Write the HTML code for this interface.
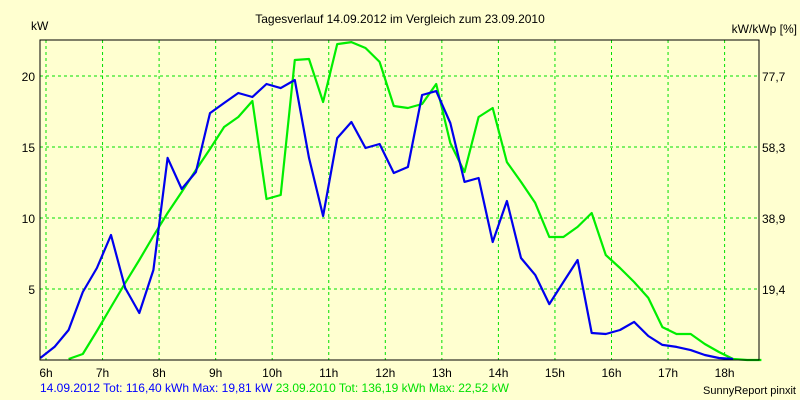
<!DOCTYPE html>
<html><head><meta charset="utf-8"><style>
body{margin:0;background:#ffffd0;}
svg{display:block;font-family:"Liberation Sans",Arial,sans-serif;}
</style></head><body>
<svg id="chart" width="800" height="400">
<rect x="0" y="0" width="800" height="400" fill="#ffffd0"/>
<text x="400" y="23" font-size="12" text-anchor="middle">Tagesverlauf 14.09.2012 im Vergleich zum 23.09.2010</text>
<text x="31" y="30" font-size="12">kW</text>
<text x="797" y="33" font-size="12" text-anchor="end">kW/kWp [%]</text>
<g id="grid"></g>
<g id="series"></g>
<rect x="40" y="40" width="719" height="320" fill="none" stroke="#000" stroke-width="1"/>
<g id="labels"></g>
<text x="40" y="392" font-size="12"><tspan fill="#0000ff">14.09.2012 Tot: 116,40 kWh Max: 19,81 kW</tspan><tspan fill="#00e000"> 23.09.2010 Tot: 136,19 kWh Max: 22,52 kW</tspan></text>
<text x="796" y="394" font-size="11" text-anchor="end">SunnyReport pinxit</text>
</svg>
<script>
const hours = [6,7,8,9,10,11,12,13,14,15,16,17,18];
const hourLabels = ["6h","7h","8h","9h","10h","11h","12h","13h","14h","15h","16h","17h","18h"];
const yTicks = [5,10,15,20];
const rightLabels = ["19,4","38,9","58,3","77,7"];
const times = [5.9,6.15,6.4,6.65,6.9,7.15,7.4,7.65,7.9,8.15,8.4,8.65,8.9,9.15,9.4,9.65,9.9,10.15,10.4,10.65,10.9,11.15,11.4,11.65,11.9,12.15,12.4,12.65,12.9,13.15,13.4,13.65,13.9,14.15,14.4,14.65,14.9,15.15,15.4,15.65,15.9,16.15,16.4,16.65,16.9,17.15,17.4,17.65,17.9,18.15,18.4,18.65];
const power2012 = [0.14,0.92,2.11,4.79,6.48,8.8,5.07,3.31,6.34,14.23,12.04,13.24,17.39,18.1,18.8,18.52,19.44,19.15,19.72,14.23,10.14,15.63,16.76,14.93,15.21,13.17,13.59,18.66,18.94,16.69,12.54,12.82,8.31,11.2,7.18,5.99,3.94,5.49,7.04,1.9,1.83,2.11,2.68,1.69,1.06,0.92,0.7,0.35,0.14,0.07,null,null];
const power2010 = [null,null,0.07,0.42,2.04,3.73,5.42,7.04,8.73,10.35,11.83,13.38,14.86,16.41,17.11,18.24,11.34,11.62,21.13,21.2,18.17,22.25,22.39,21.97,20.99,17.89,17.75,18.03,19.44,15.28,13.24,17.11,17.75,13.94,12.54,11.06,8.66,8.66,9.37,10.35,7.39,6.48,5.49,4.37,2.32,1.83,1.83,1.13,0.56,0.07,0,0];

const NS="http://www.w3.org/2000/svg";
const xS = h => 46 + (h-6)*56.55;
const yS = v => 360 - v*14.2;
const grid=document.getElementById('grid'), labels=document.getElementById('labels'), series=document.getElementById('series');
function mk(tag,attrs,parent){const e=document.createElementNS(NS,tag);for(const k in attrs)e.setAttribute(k,attrs[k]);parent.appendChild(e);return e;}
hours.forEach((h,i)=>{
  const l=mk('line',{x1:xS(h),x2:xS(h),y1:40,y2:360,stroke:'#00e000','stroke-dasharray':'3,3'},grid);
  
  
  const t=mk('text',{x:xS(h),y:377,'font-size':12,'text-anchor':'middle'},labels);
  t.textContent=hourLabels[i];
  
  
});
yTicks.forEach((v,i)=>{
  const l=mk('line',{x1:40,x2:759,y1:yS(v),y2:yS(v),stroke:'#00e000','stroke-dasharray':'3,3'},grid);
  
  
  const t=mk('text',{x:35,y:yS(v)+5,'font-size':12,'text-anchor':'end'},labels);
  t.textContent=String(v);
  
  
  const r=mk('text',{x:762,y:yS(v)+5,'font-size':12},labels);
  r.textContent=rightLabels[i];
  
  
});
function line(vals,color,name){
  const pts=[];vals.forEach((v,i)=>{if(v!==null)pts.push(xS(times[i]).toFixed(1)+','+yS(v).toFixed(1));});
  const p=mk('polyline',{points:pts.join(' '),fill:'none',stroke:color,'stroke-width':2.2,'stroke-linejoin':'round'},series);
  
  
}
line(power2010,'#00ee00','line-2010');
line(power2012,'#0000ee','line-2012');
</script>
</body></html>
